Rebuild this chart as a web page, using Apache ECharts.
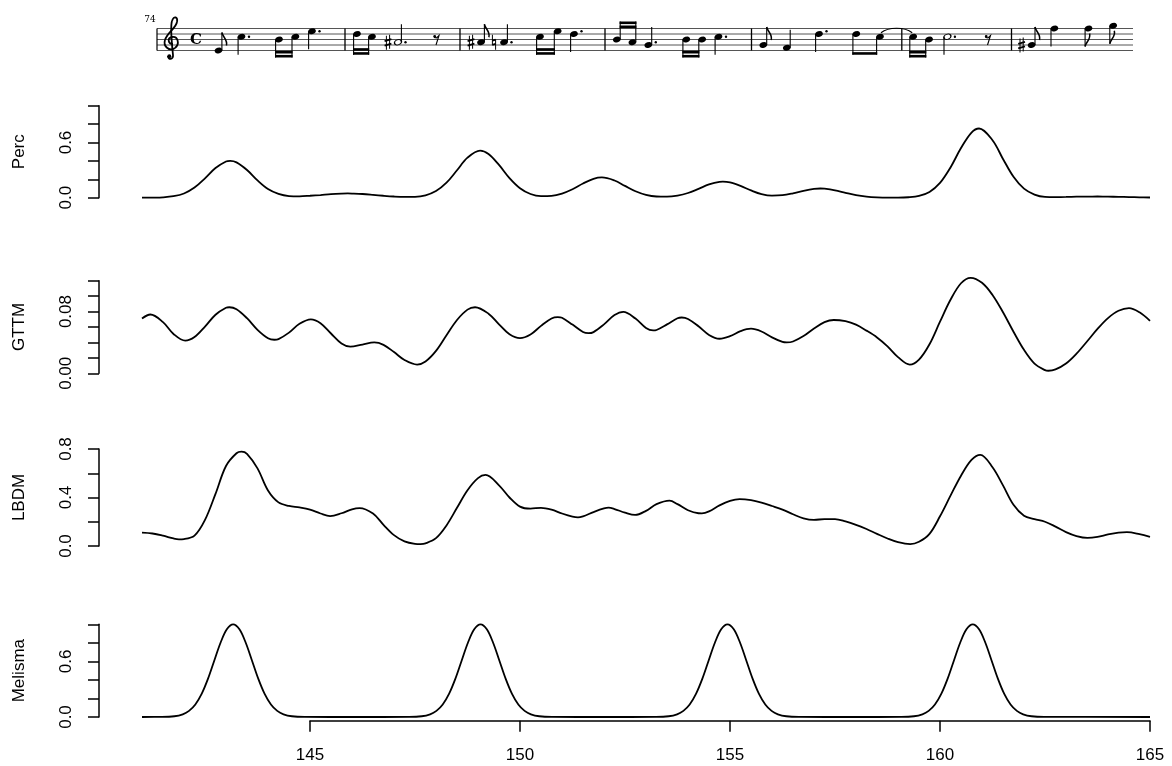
<!DOCTYPE html>
<html><head><meta charset="utf-8">
<script src="https://cdn.jsdelivr.net/npm/echarts@6/dist/echarts.min.js"></script>
<style>html,body{margin:0;padding:0;background:#fff}#chart{width:1172px;height:766px}</style>
</head><body><div id="chart"></div>
<script>
// ---------- data ----------
const xGrid = [141,141.25,141.5,141.75,142,142.25,142.5,142.75,143,143.25,143.5,143.75,144,144.25,144.5,144.75,
145,145.25,145.5,145.75,146,146.25,146.5,146.75,147,147.25,147.5,147.75,148,148.25,148.5,148.75,
149,149.25,149.5,149.75,150,150.25,150.5,150.75,151,151.25,151.5,151.75,152,152.25,152.5,152.75,
153,153.25,153.5,153.75,154,154.25,154.5,154.75,155,155.25,155.5,155.75,156,156.25,156.5,156.75,
157,157.25,157.5,157.75,158,158.25,158.5,158.75,159,159.25,159.5,159.75,160,160.25,160.5,160.75,
161,161.25,161.5,161.75,162,162.25,162.5,162.75,163,163.25,163.5,163.75,164,164.25,164.5,164.75,165];

const percValues = [0.000,0.001,0.004,0.016,0.046,0.110,0.211,0.322,0.393,0.384,0.301,0.188,0.094,0.041,0.018,0.015,
0.021,0.029,0.038,0.044,0.045,0.040,0.031,0.021,0.013,0.009,0.010,0.026,0.072,0.163,0.298,0.435,
0.508,0.475,0.356,0.213,0.103,0.040,0.017,0.020,0.045,0.092,0.154,0.205,0.219,0.187,0.128,0.070,
0.031,0.013,0.011,0.023,0.051,0.096,0.144,0.173,0.166,0.128,0.079,0.039,0.022,0.027,0.048,0.075,
0.096,0.098,0.080,0.053,0.028,0.012,0.004,0.001,0.001,0.005,0.020,0.063,0.161,0.329,0.540,0.708,
0.743,0.625,0.421,0.227,0.098,0.034,0.009,0.007,0.008,0.011,0.012,0.013,0.012,0.009,0.007,0.004,0.002];
// peaks and troughs
const percExtremaX = [143.1, 145.9, 149.05, 151.95, 154.83, 157.15, 160.93];
const percExtremaY = [0.400, 0.046, 0.512, 0.220, 0.175, 0.100, 0.752];

const gttmValues = [0.0710,0.0757,0.0663,0.0510,0.0426,0.0470,0.0605,0.0759,0.0849,0.0830,0.0714,0.0564,0.0455,0.0443,0.0527,0.0642,
0.0700,0.0650,0.0516,0.0387,0.0346,0.0373,0.0400,0.0369,0.0275,0.0172,0.0117,0.0153,0.0290,0.0493,0.0691,0.0825,
0.0851,0.0773,0.0634,0.0506,0.0455,0.0503,0.0615,0.0710,0.0719,0.0631,0.0536,0.0534,0.0634,0.0754,0.0793,0.0709,
0.0587,0.0561,0.0634,0.0713,0.0704,0.0609,0.0497,0.0448,0.0481,0.0546,0.0578,0.0542,0.0465,0.0406,0.0412,0.0482,
0.0581,0.0663,0.0690,0.0675,0.0630,0.0553,0.0465,0.0350,0.0210,0.0120,0.0177,0.0376,0.0669,0.0953,0.1167,0.1235,
0.1173,0.1015,0.0791,0.0539,0.0304,0.0126,0.0041,0.0050,0.0126,0.0254,0.0412,0.0575,0.0715,0.0810,0.0843,0.0790,0.0680];
const gttmExtremaX = [141.2, 142.03, 143.08, 144.15, 145.02, 145.96, 146.53, 147.55, 148.93, 150.9, 151.63, 152.46, 153.17, 153.85, 156.35, 157.47, 159.28, 160.73, 162.58, 164.5];
const gttmExtremaY = [0.0762, 0.0423, 0.0856, 0.0435, 0.0700, 0.0345, 0.0400, 0.0113, 0.0856, 0.0728, 0.0520, 0.0796, 0.0555, 0.0723, 0.0400, 0.0691, 0.0113, 0.1237, 0.0033, 0.0845];

const lbdmValues = [0.110,0.103,0.085,0.062,0.057,0.085,0.215,0.430,0.660,0.765,0.760,0.640,0.458,0.360,0.330,0.318,
0.300,0.268,0.248,0.270,0.303,0.310,0.268,0.175,0.090,0.038,0.018,0.022,0.065,0.170,0.315,0.460,
0.560,0.580,0.500,0.400,0.325,0.308,0.315,0.300,0.268,0.242,0.245,0.280,0.310,0.305,0.275,0.257,
0.290,0.345,0.372,0.345,0.295,0.270,0.285,0.335,0.372,0.385,0.378,0.358,0.330,0.300,0.262,0.228,
0.215,0.222,0.222,0.203,0.175,0.140,0.100,0.062,0.032,0.017,0.035,0.100,0.245,0.415,0.580,0.710,
0.748,0.650,0.500,0.340,0.250,0.222,0.200,0.160,0.115,0.082,0.068,0.075,0.095,0.110,0.113,0.098,0.076];
const lbdmExtremaX = [141.88, 143.37, 145.48, 146.18, 147.63, 149.18, 151.38, 152.11, 152.74, 153.56, 154.33, 155.23, 159.29, 160.96, 163.51, 164.45];
const lbdmExtremaY = [0.055, 0.778, 0.247, 0.313, 0.016, 0.586, 0.236, 0.316, 0.256, 0.374, 0.269, 0.386, 0.016, 0.752, 0.067, 0.114];

const melismaX = [141.0,141.47,141.77,141.97,142.12,142.27,142.42,142.57,142.72,142.87,143.02,143.17,143.32,143.47,143.62,143.77,143.92,144.07,144.22,144.37,144.57,144.87,146.1,
147.36,147.66,147.86,148.01,148.16,148.31,148.46,148.61,148.76,148.91,149.06,149.21,149.36,149.51,149.66,149.81,149.96,150.11,150.26,150.46,150.76,152.0,
153.24,153.54,153.74,153.89,154.04,154.19,154.34,154.49,154.64,154.79,154.94,155.09,155.24,155.39,155.54,155.69,155.84,155.99,156.14,156.34,156.64,157.9,
159.08,159.38,159.58,159.73,159.88,160.03,160.18,160.33,160.48,160.63,160.78,160.93,161.08,161.23,161.38,161.53,161.68,161.83,161.98,162.18,162.48,165.0];
const melismaValues = [0,0.001,0.008,0.029,0.066,0.135,0.249,0.411,0.607,0.801,0.946,1.0,0.946,0.801,0.607,0.411,0.249,0.135,0.066,0.029,0.008,0.001,0,
0.001,0.008,0.029,0.066,0.135,0.249,0.411,0.607,0.801,0.946,1.0,0.946,0.801,0.607,0.411,0.249,0.135,0.066,0.029,0.008,0.001,0,
0.001,0.008,0.029,0.066,0.135,0.249,0.411,0.607,0.801,0.946,1.0,0.946,0.801,0.607,0.411,0.249,0.135,0.066,0.029,0.008,0.001,0,
0.001,0.008,0.029,0.066,0.135,0.249,0.411,0.607,0.801,0.946,1.0,0.946,0.801,0.607,0.411,0.249,0.135,0.066,0.029,0.008,0.001,0];

const panelNames = ['Perc', 'GTTM', 'LBDM', 'Melisma'];
const xTickValues = [145, 150, 155, 160, 165];
const xTickLabels = ['145', '150', '155', '160', '165'];
const percTickValues = [0, 0.6], percTickLabels = ['0.0', '0.6'];
const gttmTickValues = [0, 0.08], gttmTickLabels = ['0.00', '0.08'];
const lbdmTickValues = [0, 0.4, 0.8], lbdmTickLabels = ['0.0', '0.4', '0.8'];
const melismaTickValues = [0, 0.6], melismaTickLabels = ['0.0', '0.6'];

// ---------- score (decoration) ----------
// steps: 0 = E4 (bottom staff line), each step = one line/space
const scoreNotes = [
 // [x, step, head, stemDir, flags, dotted, accidental]
 [218.5,0,'f',1,1,0,''],[241.5,5,'f',-1,0,1,''],[279,4,'f',-1,0,0,''],[295.4,5,'f',-1,0,0,''],[312,7,'f',-1,0,1,''],
 [357,6,'f',-1,0,0,''],[372,5,'f',-1,0,0,''],[398,3,'o',1,0,1,'sharp'],
 [481,3,'f',1,1,0,'sharp'],[504,3,'f',1,0,1,'natural'],[540,5,'f',-1,0,0,''],[557.7,7,'f',-1,0,0,''],[574,6,'f',-1,0,1,''],
 [616.8,4,'f',1,0,0,''],[632.4,3,'f',1,0,0,''],[648.3,2,'f',1,0,1,''],[686.3,4,'f',-1,0,0,''],[702.2,4,'f',-1,0,0,''],[718.5,5,'f',-1,0,1,''],
 [763.3,2,'f',1,1,0,''],[786.8,1,'f',1,0,0,''],[819,6,'f',-1,0,1,''],[856.3,6,'f',-1,0,0,''],[880,5,'f',-1,0,0,''],
 [913.2,5,'f',-1,0,0,''],[929.1,4,'f',-1,0,0,''],[947.4,5,'o',-1,0,1,''],
 [1031.6,2,'f',1,1,0,'sharp'],[1054.4,8,'f',-1,0,0,''],[1088.5,8,'f',-1,1,0,''],[1113.2,9,'f',-1,1,0,'']
];
const scoreBeams = [[2,3,2],[5,6,2],[10,11,2],[13,14,2],[16,17,2],[22,23,1],[24,25,2]];
const scoreRests = [436.5, 988];
const scoreTies = [[23,24]];
const barLines = [345, 460, 605, 751.5, 901.8, 1011.5];
const clefCurves = [
  [173,44,168,44,167,38,172,37],[172,37,178,36,180,44,175,48],[175,48,169,52,163,46,165,40],
  [165,40,167,33,176,28,177,22],[177,22,178,17,174,15,172,21],[172,21,170,27,172,45,173,55],
  [173,55,173.5,60,168,60,168,56]
];

function curve(a, w) {
  return {type:'bezierCurve', shape:{x1:a[0],y1:a[1],cpx1:a[2],cpy1:a[3],cpx2:a[4],cpy2:a[5],x2:a[6],y2:a[7]},
          style:{fill:null, stroke:'#000', lineWidth:w}};
}
function seg(x1, y1, x2, y2, w) {
  return {type:'line', shape:{x1, y1, x2, y2}, style:{stroke:'#000', lineWidth:w}};
}

function buildScore() {
  const els = [];
  const top = 28.5, gap = 5.5, left = 157, right = 1133;
  const stepY = s => 50.5 - s * 2.75;
  for (let i = 0; i < 5; i++) {
    const y = top + i * gap;
    els.push({type:'line', shape:{x1:left,y1:y,x2:right,y2:y}, style:{stroke:'#555',lineWidth:1}});
  }
  els.push(seg(left, top, left, top + 4 * gap, 1.2));
  barLines.forEach(x => els.push(seg(x, top, x, top + 4 * gap, 1.3)));
  clefCurves.forEach(c => els.push(curve(c, 1.8)));
  els.push({type:'circle', shape:{cx:169.3,cy:56.3,r:2}, style:{fill:'#000'}});
  els.push({type:'text', style:{text:'C', x:196, y:40, fontSize:15, fontWeight:'bold', fontFamily:'DejaVu Serif', fill:'#000', textAlign:'center', textVerticalAlign:'middle'}});
  els.push({type:'text', style:{text:'74', x:150, y:20, fontSize:9, fontFamily:'DejaVu Serif', fill:'#000', textAlign:'center', textVerticalAlign:'middle'}});
  const stemEnd = {};
  scoreBeams.forEach(b => {
    const n1 = scoreNotes[b[0]], n2 = scoreNotes[b[1]], d = n1[3];
    const e = d > 0 ? Math.min(stepY(n1[1]), stepY(n2[1])) - 18 : Math.max(stepY(n1[1]), stepY(n2[1])) + 18;
    stemEnd[b[0]] = e; stemEnd[b[1]] = e;
    const x1 = n1[0] + (d > 0 ? 3.4 : -3.4), x2 = n2[0] + (d > 0 ? 3.4 : -3.4);
    for (let k = 0; k < b[2]; k++) {
      const y0 = e + (d > 0 ? k * 4 : -k * 4);
      const y1 = y0 + (d > 0 ? 2.6 : -2.6);
      els.push({type:'polygon', shape:{points:[[x1-0.6,y0],[x2+0.6,y0],[x2+0.6,y1],[x1-0.6,y1]]}, style:{fill:'#000'}});
    }
  });
  scoreNotes.forEach((n, i) => {
    const [x, s, head, d, flags, dotted, acc] = n;
    const y = stepY(s);
    if (head === 'f') {
      els.push({type:'circle', x:x, y:y, rotation:0.35, scaleX:1.4, scaleY:1, shape:{cx:0,cy:0,r:2.8}, style:{fill:'#000'}});
    } else {
      els.push({type:'circle', x:x, y:y, rotation:0.35, scaleX:1.45, scaleY:1, shape:{cx:0,cy:0,r:2.5}, style:{fill:'#fff',stroke:'#000',lineWidth:1.2,strokeNoScale:true}});
    }
    const sx = x + (d > 0 ? 3.4 : -3.4);
    const se = stemEnd[i] !== undefined ? stemEnd[i] : y - d * 18;
    els.push(seg(sx, y, sx, se, 1.1));
    if (flags) {
      const c = d > 0 ? [sx,se,sx+1,se+5,sx+6,se+7,sx+4.5,se+13] : [sx,se,sx+1,se-5,sx+6,se-7,sx+4.5,se-13];
      els.push(curve(c, 1.5));
    }
    if (dotted) {
      els.push({type:'circle', shape:{cx:x+7.5, cy:(s % 2 === 0 ? y - 2.75 : y), r:1.2}, style:{fill:'#000'}});
    }
    const ax = x - 10;
    if (acc === 'sharp') {
      els.push(seg(ax - 1.6, y - 6.5, ax - 1.6, y + 7.5, 1));
      els.push(seg(ax + 1.6, y - 7.5, ax + 1.6, y + 6.5, 1));
      els.push(seg(ax - 3.4, y - 1.2, ax + 3.4, y - 3.2, 1.8));
      els.push(seg(ax - 3.4, y + 3.4, ax + 3.4, y + 1.4, 1.8));
    } else if (acc === 'natural') {
      els.push(seg(ax - 1.6, y - 7.5, ax - 1.6, y + 3, 1));
      els.push(seg(ax + 1.6, y - 3, ax + 1.6, y + 7.5, 1));
      els.push(seg(ax - 1.6, y - 1.6, ax + 1.6, y - 2.6, 1.8));
      els.push(seg(ax - 1.6, y + 2.6, ax + 1.6, y + 1.6, 1.8));
    }
  });
  scoreRests.forEach(x => {
    els.push({type:'circle', shape:{cx:x-1.8, cy:36.5, r:1.4}, style:{fill:'#000'}});
    els.push({type:'polyline', shape:{points:[[x-2.5,37.5],[x,37.8],[x+2.5,35.5],[x-0.5,45]]}, style:{fill:null,stroke:'#000',lineWidth:1.1}});
  });
  scoreTies.forEach(t => {
    const a = scoreNotes[t[0]], b = scoreNotes[t[1]];
    const ya = stepY(a[1]) - 4;
    const mx = (a[0] + b[0]) / 2;
    els.push(curve([a[0]+1, ya, mx-8, ya-6, mx+8, ya-6, b[0]-1, ya], 1.2));
  });
  return els;
}

// merge sampled values with the read peak/trough points
function mergePoints(gx, gy, ex, ey) {
  const pts = [];
  gx.forEach((x, i) => { if (!ex.some(e => Math.abs(e - x) < 0.07)) pts.push([x, gy[i]]); });
  ex.forEach((x, i) => pts.push([x, ey[i]]));
  pts.sort((a, b) => a[0] - b[0]);
  return pts;
}

// ---------- chart ----------
const FONT = 'Liberation Sans, Arial, Helvetica, sans-serif';
const panels = [
  {top:105.7, height:92,   min:0, max:1.0,  interval:0.2,  tv:percTickValues,    tl:percTickLabels,    data:mergePoints(xGrid, percValues, percExtremaX, percExtremaY)},
  {top:280.7, height:92.6, min:0, max:0.12, interval:0.02, tv:gttmTickValues,    tl:gttmTickLabels,    data:mergePoints(xGrid, gttmValues, gttmExtremaX, gttmExtremaY)},
  {top:449,   height:97,   min:0, max:0.8,  interval:0.2,  tv:lbdmTickValues,    tl:lbdmTickLabels,    data:mergePoints(xGrid, lbdmValues, lbdmExtremaX, lbdmExtremaY)},
  {top:624.3, height:92.7, min:0, max:1.0,  interval:0.2,  tv:melismaTickValues, tl:melismaTickLabels, data:melismaX.map((x, j) => [x, melismaValues[j]])}
];
const gridLeft = 142, gridWidth = 1008;
const grids = [], xAxes = [], yAxes = [], series = [];
panels.forEach((p, i) => {
  grids.push({left:gridLeft, width:gridWidth, top:p.top, height:p.height});
  xAxes.push({gridIndex:i, type:'value', min:141, max:165, show:false});
  yAxes.push({
    gridIndex:i, type:'value', min:p.min, max:p.max, interval:p.interval, offset:43,
    name:panelNames[i], nameLocation:'middle', nameRotate:90, nameGap:71,
    nameTextStyle:{fontSize:17, color:'#000', fontFamily:FONT},
    axisLine:{show:true, lineStyle:{color:'#000', width:1.5}},
    axisTick:{show:true, length:11, lineStyle:{color:'#000', width:1.5}},
    splitLine:{show:false},
    axisLabel:{rotate:90, margin:24, fontSize:17, color:'#000', fontFamily:FONT,
      formatter: v => { const k = p.tv.findIndex(t => Math.abs(t - v) < 1e-9); return k >= 0 ? p.tl[k] : ''; }}
  });
  series.push({
    type:'line', xAxisIndex:i, yAxisIndex:i, showSymbol:false, smooth:0.35, clip:false, silent:true,
    lineStyle:{color:'#000', width:1.8},
    data: p.data
  });
});
// bottom x axis (R style: spans tick range only)
grids.push({left:310, width:840, top:700, height:20.7});
xAxes.push({gridIndex:4, type:'value', min:145, max:165, interval:5, position:'bottom',
  axisLine:{show:true, lineStyle:{color:'#000', width:1.5}},
  axisTick:{show:true, length:11, lineStyle:{color:'#000', width:1.5}},
  splitLine:{show:false},
  axisLabel:{margin:26, fontSize:17, color:'#000', fontFamily:FONT,
    formatter: v => { const k = xTickValues.indexOf(v); return k >= 0 ? xTickLabels[k] : ''; }}
});
yAxes.push({gridIndex:4, type:'value', show:false});

const chart = echarts.init(document.getElementById('chart'), null, {renderer:'canvas'});
chart.setOption({
  backgroundColor:'#fff',
  animation:false,
  grid:grids, xAxis:xAxes, yAxis:yAxes, series:series,
  graphic:{elements:buildScore()}
});
</script></body></html>
